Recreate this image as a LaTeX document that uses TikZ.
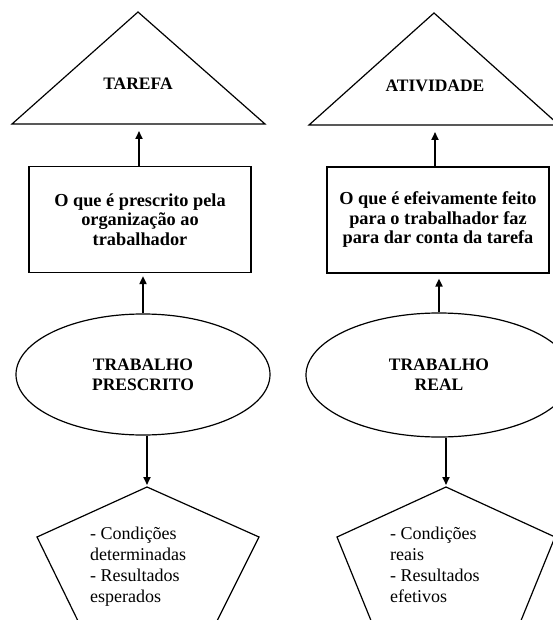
\documentclass[tikz,border=0pt]{standalone}
\usepackage{fontspec}
\setmainfont{Liberation Serif}
\usetikzlibrary{shapes.geometric,arrows.meta}
\begin{document}
\begin{tikzpicture}[x=1pt,y=-1pt,
  outline/.style={draw=black,line width=1.2pt,line join=miter},
  title/.style={font=\fontsize{17.5}{20}\selectfont\bfseries,align=center,inner sep=0pt},
  boxnode/.style={outline,rectangle,minimum width=222pt,minimum height=106pt,inner sep=0pt,
    font=\fontsize{18.3}{19.5}\selectfont\bfseries,align=center},
  ellnode/.style={outline,ellipse,inner sep=0pt,
    font=\fontsize{17.5}{20}\selectfont\bfseries,align=center},
  listtext/.style={font=\fontsize{18}{21}\selectfont,align=left,inner sep=0pt,anchor=north west},
  arr/.style={-{Triangle[length=8pt,width=7pt]},line width=1.8pt}]
\useasboundingbox (0,0) rectangle (553,620);
\fill[white] (0,0) rectangle (553,620);
\clip (0,0) rectangle (553,620);

% ---- left column: prescribed work ----
\draw[outline] (12,124) -- (138,12) -- (265,124) -- cycle;
\coordinate (baseL) at (139,124);
\node[title] (tarefa) at (138,84) {TAREFA};

\node[boxnode] (boxL) at (140,219.5) {O que é prescrito pela\\organização ao\\trabalhador};

\node[ellnode,minimum width=254pt,minimum height=121pt] (ellL) at (143,374.5) {TRABALHO\\PRESCRITO};

\coordinate (pL) at (147,487);
\draw[outline] (pL) -- (259,537) -- (216,623) -- (79,623) -- (37,537) -- cycle;
\node[listtext] (condL) at (90,527) {- Condições\\determinadas\\- Resultados\\esperados};

\draw[arr,shorten >=7pt] (baseL |- boxL.north) -- (baseL);
\draw[arr,shorten >=3pt] (ellL.north) -- (ellL.north |- boxL.south);
\draw[arr,shorten >=2pt] (pL |- ellL.south) -- (pL);

% ---- right column: real work ----
\draw[outline] (309,125) -- (434,13) -- (559,125) -- cycle;
\coordinate (baseR) at (435,125);
\node[title] (atividade) at (435,86) {ATIVIDADE};

\node[boxnode] (boxR) at (438,220) {O que é efeivamente feito\\para o trabalhador faz\\para dar conta da tarefa};

\node[ellnode,minimum width=266pt,minimum height=124pt] (ellR) at (439,375) {TRABALHO\\REAL};

\coordinate (pR) at (446,487);
\draw[outline] (pR) -- (555,537) -- (520,623) -- (372,623) -- (337,537) -- cycle;
\node[listtext] (condR) at (390,527) {- Condições\\reais\\- Resultados\\efetivos};

\draw[arr,shorten >=7pt] (baseR |- boxR.north) -- (baseR);
\draw[arr,shorten >=5pt] (ellR.north) -- (ellR.north |- boxR.south);
\draw[arr,shorten >=2pt] (pR |- ellR.south) -- (pR);
\end{tikzpicture}
\end{document}
